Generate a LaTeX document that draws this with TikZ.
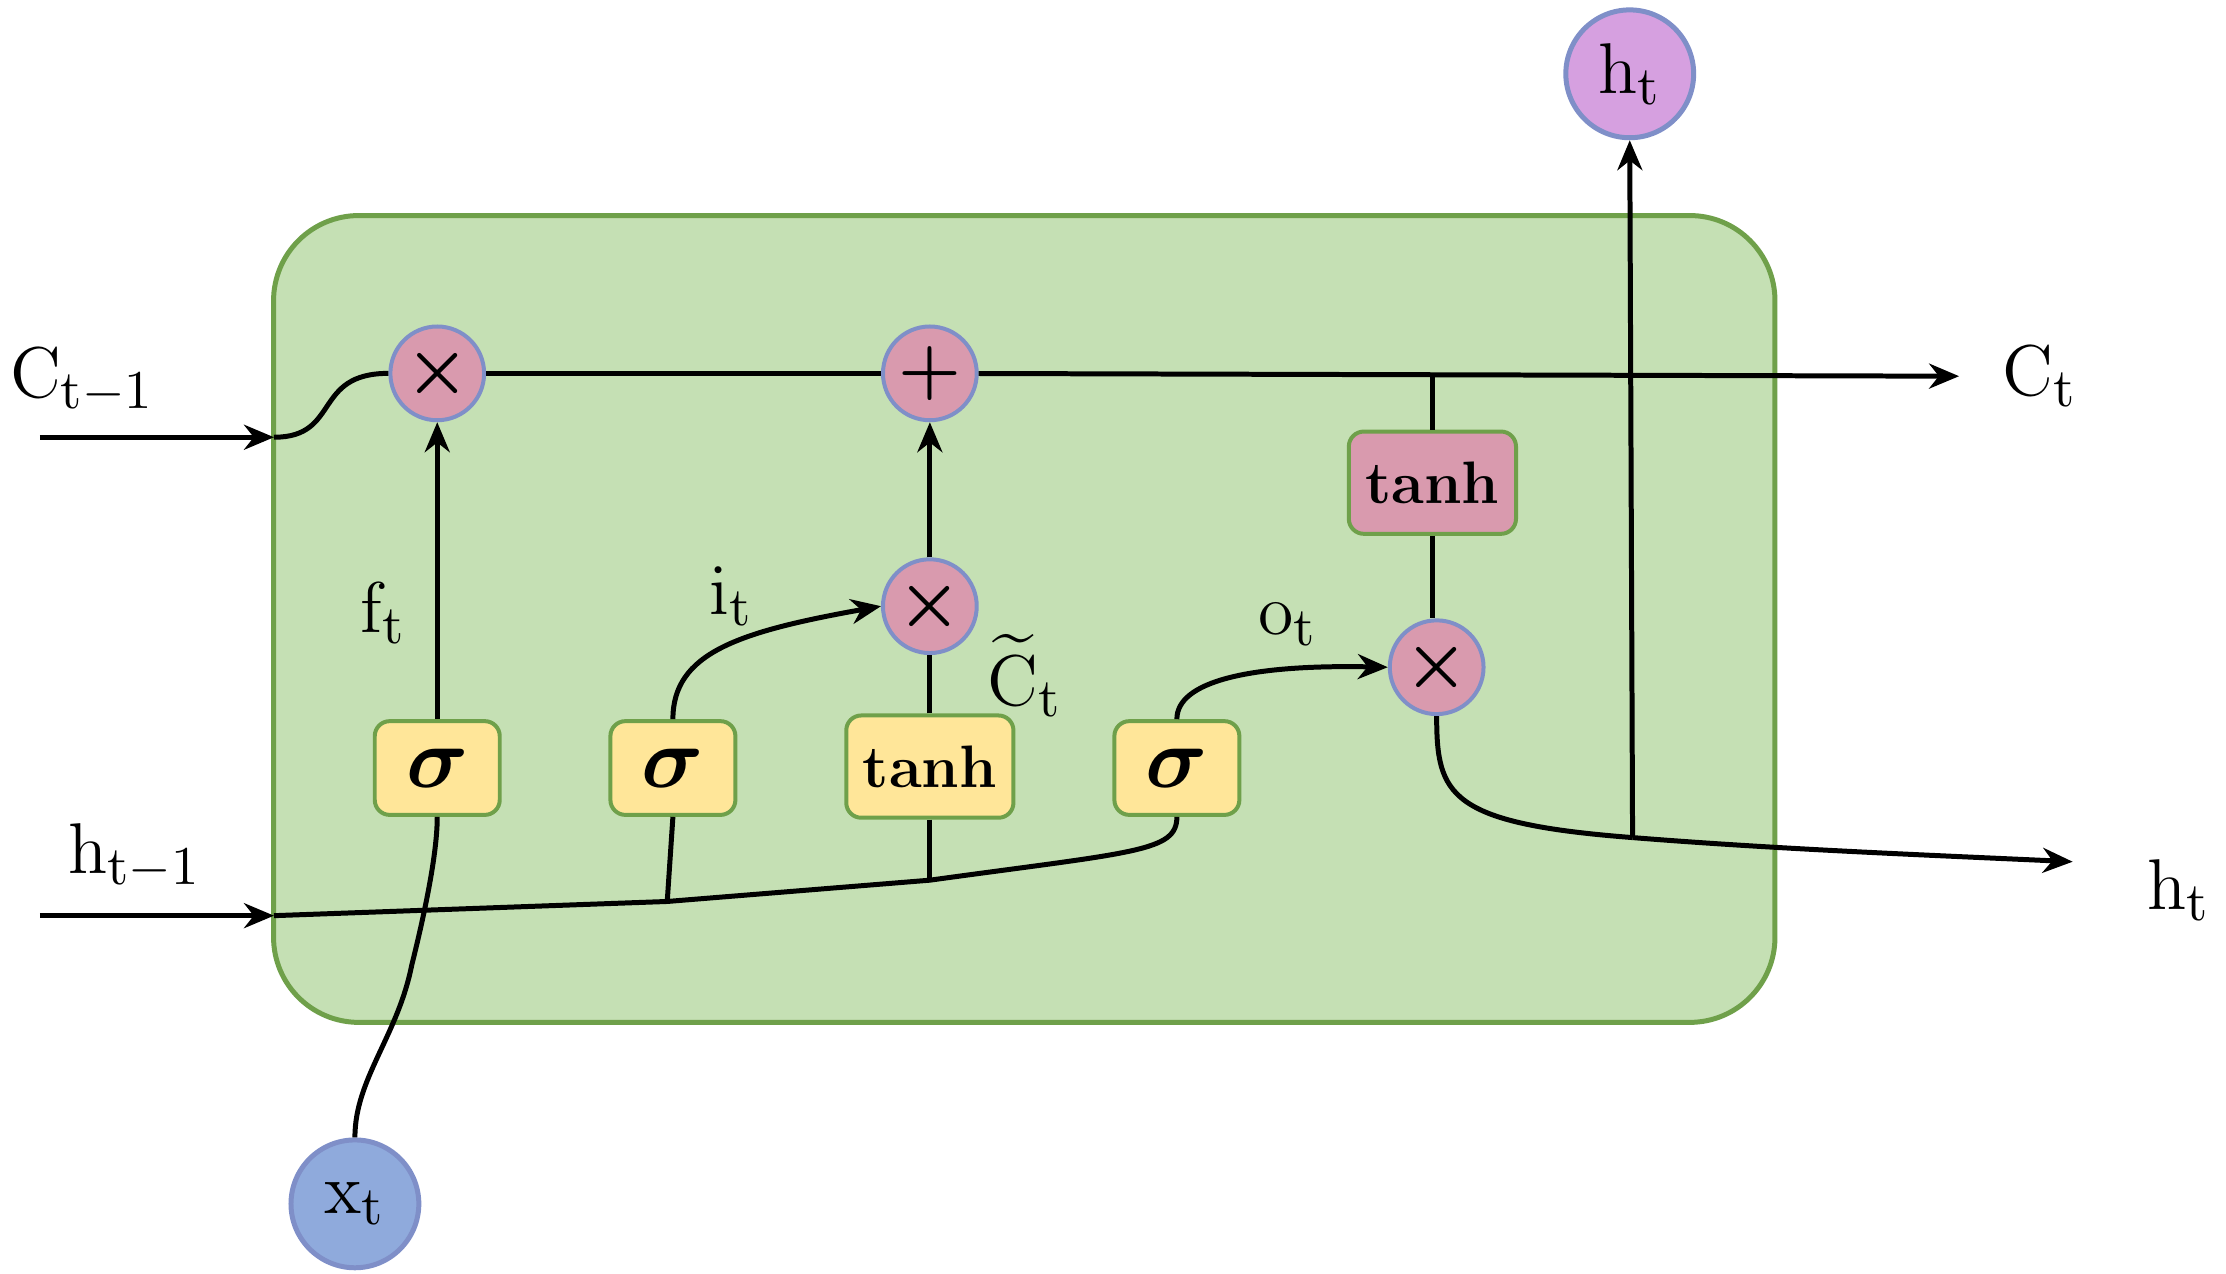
\documentclass[tikz,border=0pt]{standalone}
\usepackage{amsmath,amssymb,bm}
\usetikzlibrary{arrows.meta}
\definecolor{cellg}{HTML}{C5E0B4}
\definecolor{cellb}{HTML}{6FA04A}
\definecolor{opp}{HTML}{D99AAE}
\definecolor{opb}{HTML}{7F8FC8}
\definecolor{yel}{HTML}{FFE699}
\definecolor{xb}{HTML}{8FAADC}
\definecolor{hp}{HTML}{D6A0E0}
\begin{document}
\begin{tikzpicture}[x=0.01cm,y=-0.01cm,line width=1pt,
  op/.style={circle,draw=opb,fill=opp,line width=0.8pt,minimum size=0.66cm,inner sep=0pt,font=\fontsize{15}{15}\selectfont},
  gate/.style={rounded corners=3pt,draw=cellb,fill=yel,line width=0.8pt,minimum width=0.88cm,minimum height=0.66cm,font=\fontsize{16}{16}\selectfont},
  tgate/.style={gate,minimum width=1.15cm,minimum height=0.72cm,font=\fontsize{12}{12}\selectfont\bfseries},
  lab/.style={font=\fontsize{15}{18}\selectfont},
  arr/.style={-{Stealth[length=6pt,width=5pt]}}]
\useasboundingbox (0,0) rectangle (1568,897);
\node[draw=cellb,fill=cellg,line width=1pt,rounded corners=0.6cm,minimum width=10.57cm,minimum height=5.68cm] (cell) at (721.5,436) {};
\node[op] (m1) at (308,263) {$\bm\times$};
\node[op] (pl) at (655,263) {$\bm+$};
\node[op] (m2) at (655,427) {$\bm\times$};
\node[op] (m3) at (1012,470) {$\bm\times$};
\node[gate] (s1) at (308,541) {$\bm\sigma$};
\node[gate] (s2) at (474,541) {$\bm\sigma$};
\node[tgate] (tg) at (655,540) {tanh};
\node[gate] (s3) at (829,541) {$\bm\sigma$};
\node[tgate,fill=opp] (tc) at (1009,340) {tanh};
\node[circle,draw=opb,fill=xb,minimum size=0.9cm,inner sep=0pt,lab] (x) at (250,848) {$\mathrm{x_t}$};
\node[circle,draw=opb,fill=hp,minimum size=0.9cm,inner sep=0pt,lab] (ho) at (1148,52) {$\mathrm{h_t}$};
\node[lab] (lc0) at (58,268) {$\mathrm{C_{t-1}}$};
\node[lab] (lh0) at (95,603) {$\mathrm{h_{t-1}}$};
\node[lab] (lct) at (1437,265) {$\mathrm{C_t}$};
\node[lab] (lht) at (1535,627) {$\mathrm{h_t}$};
\node[lab] (lf) at (270,432) {$\mathrm{f_t}$};
\node[lab] (li) at (515,420) {$\mathrm{i_t}$};
\node[lab,inner sep=0pt] (lcc) at (722,476) {$\widetilde{\mathrm{C}}_{\mathrm{t}}$};
\node[lab] (lo) at (907,440) {$\mathrm{o_t}$};
\coordinate (c0) at (28,308);
\coordinate (cin) at (193,308);
\coordinate (ce) at (1380,265);
\coordinate (h0) at (28,645);
\coordinate (hin) at (193,645);
\coordinate (b2) at (470,635);
\coordinate (bt) at (655,620);
\coordinate (tap) at (1009,264);
\coordinate (hs) at (1150,590);
\coordinate (he) at (1460,607);
\draw[arr] (c0) -- (cin);
\draw (cin) .. controls (240,308) and (220,263) .. (m1.west);
\draw (m1) -- (pl);
\draw[arr] (pl) -- (ce);
\draw[arr] (h0) -- (hin);
\draw (hin) -- (b2) -- (bt) .. controls (800,600) and (829,600) .. (s3.south);
\draw (s2.south) -- (b2);
\draw (tg.south) -- (bt);
\draw (x.north) .. controls (250,760) and (280,730) .. (290,680) .. controls (300,640) and (308,600) .. (s1.south);
\draw[arr] (s1.north) -- (m1.south);
\draw[arr] (s2.north) .. controls (474,460) and (520,445) .. (m2.west);
\draw (tg.north) -- (m2.south);
\draw[arr] (m2.north) -- (pl.south);
\draw[arr] (s3.north) .. controls (829,480) and (880,468) .. (m3.west);
\draw (tap) -- (tc.north);
\draw (tc.south) -- (tc.south |- m3.north);
\draw (m3.south) .. controls (1012,560) and (1020,580) .. (hs);
\draw[arr] (hs) .. controls (1250,598) and (1350,602) .. (he);
\draw[arr] (hs) -- (ho.south);
\end{tikzpicture}
\end{document}
